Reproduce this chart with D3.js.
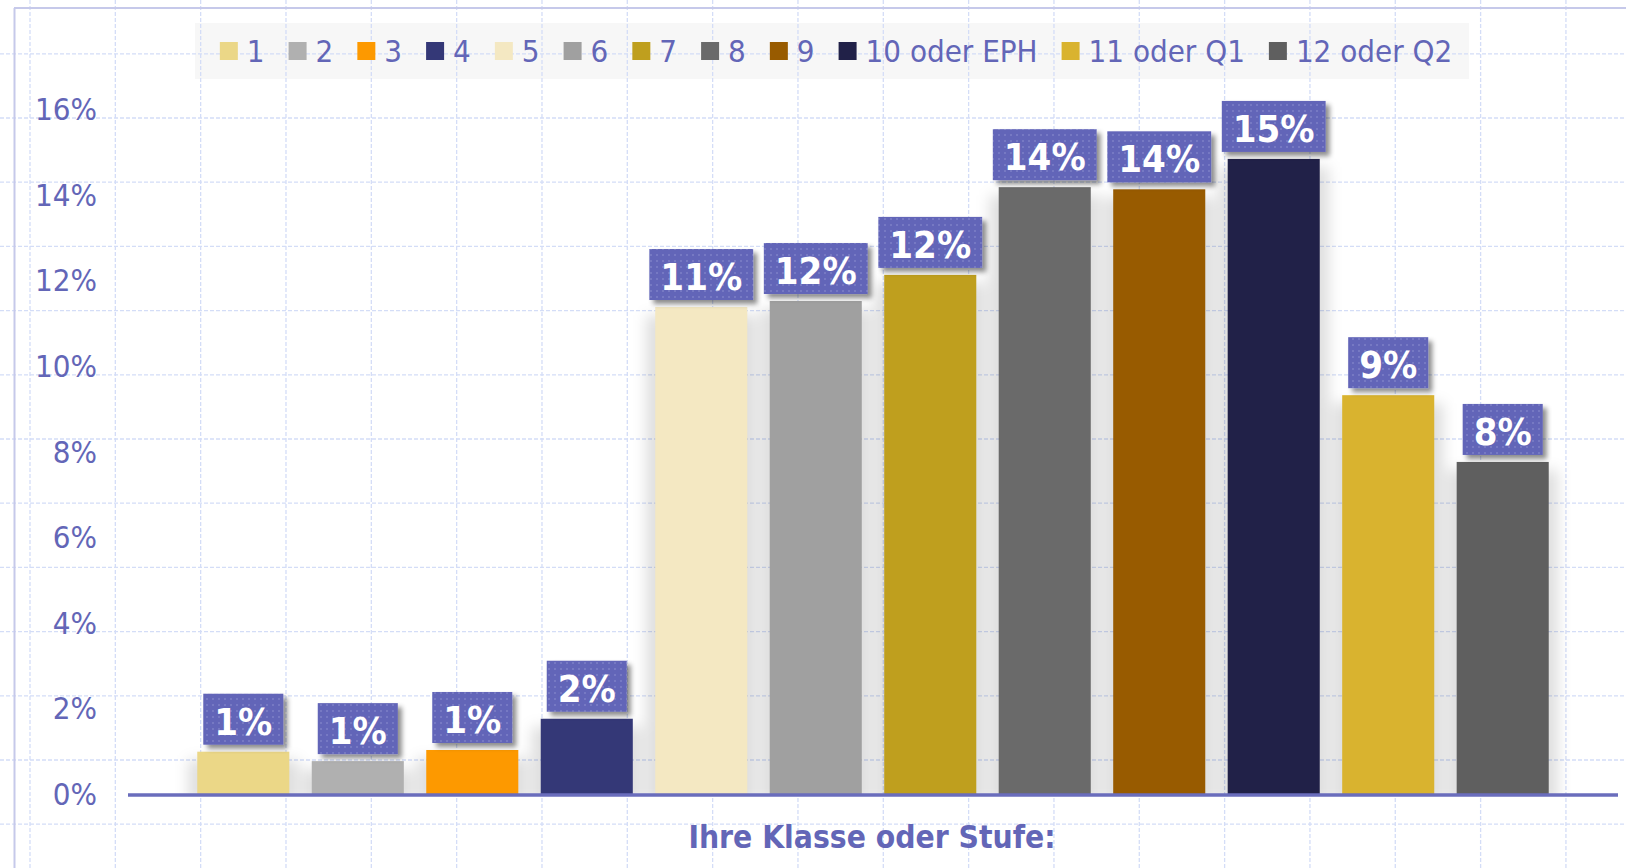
<!DOCTYPE html>
<meta charset="utf-8">
<style>
body { margin: 0; background: #fff; }
svg { display: block; }
text { font-family: "DejaVu Sans Condensed", "DejaVu Sans", sans-serif; font-stretch: condensed; }
.paper line { stroke: #d4ddf7; stroke-width: 1.3px; stroke-dasharray: 4,2; }
.yaxis text { fill: #6366b7; font-size: 31px; }
.yaxis path, .yaxis line { display: none; }
</style>
<body>
<script src="https://d3js.org/d3.v7.min.js"></script>
<script>

// chart data
var categories = ["1", "2", "3", "4", "5", "6", "7", "8", "9", "10 oder EPH", "11 oder Q1", "12 oder Q2"];
var values = [1.0, 0.78, 1.04, 1.77, 11.39, 11.53, 12.14, 14.19, 14.14, 14.85, 9.33, 7.77];
var colors = ["#ebd787", "#b0b0b0", "#fd9900", "#343877", "#f4e8c2", "#a0a0a0",
              "#bf9f1e", "#6a6a6a", "#985b00", "#212148", "#d9b32f", "#5f5f5f"];
var yTicks = [0, 2, 4, 6, 8, 10, 12, 14, 16];
var axisTitle = "Ihre Klasse oder Stufe:";

var W = 1626, H = 868;
var textColor = "#6366b7";

var svg = d3.select("body").append("svg")
    .attr("width", W)
    .attr("height", H);

var defs = svg.append("defs");

// soft shadow behind bars
var f1 = defs.append("filter").attr("id", "barShadow")
    .attr("x", "-50%").attr("y", "-20%").attr("width", "200%").attr("height", "140%");
f1.append("feGaussianBlur").attr("stdDeviation", 7);

// drop shadow of label boxes
var f2 = defs.append("filter").attr("id", "boxShadow")
    .attr("x", "-20%").attr("y", "-20%").attr("width", "150%").attr("height", "160%");
f2.append("feDropShadow").attr("dx", 4).attr("dy", 4).attr("stdDeviation", 2.5)
    .attr("flood-color", "#000").attr("flood-opacity", 0.45);

// dotted fill for label boxes
var pat = defs.append("pattern").attr("id", "dots")
    .attr("width", 6).attr("height", 6).attr("patternUnits", "userSpaceOnUse");
pat.append("rect").attr("width", 6).attr("height", 6).attr("fill", "#6265b8");
pat.append("rect").attr("x", 2).attr("y", 2).attr("width", 2).attr("height", 2).attr("fill", "#7679c3");

// scales
var x = d3.scaleBand()
    .domain(categories)
    .range([128, 1618])
    .paddingInner(0.196)
    .paddingOuter(0.605);

var y = d3.scaleLinear()
    .domain([0, 16])
    .range([794.5, 109.7]);

// legend background
svg.append("rect")
    .attr("x", 195).attr("y", 23)
    .attr("width", 1274).attr("height", 56)
    .attr("fill", "#f7f7f7");

// graph paper background
var paper = svg.append("g").attr("class", "paper");
paper.selectAll(".v")
  .data(d3.range(0, 19))
  .enter().append("line")
    .attr("x1", function(d) { return 30 + d * 85.33; })
    .attr("x2", function(d) { return 30 + d * 85.33; })
    .attr("y1", 0).attr("y2", H);
paper.selectAll(".h")
  .data(d3.range(0, 13))
  .enter().append("line")
    .attr("y1", function(d) { return 53.8 + d * 64.2; })
    .attr("y2", function(d) { return 53.8 + d * 64.2; })
    .attr("x1", 0).attr("x2", W);

// frame
svg.append("line")
    .attr("x1", 14.5).attr("x2", 14.5).attr("y1", 8).attr("y2", H)
    .attr("stroke", "#c6c9ea").attr("stroke-width", 2);
svg.append("line")
    .attr("x1", 14).attr("x2", W).attr("y1", 8).attr("y2", 8)
    .attr("stroke", "#c6c9ea").attr("stroke-width", 2);

// legend
var legend = svg.append("g");
var lx = 0;
categories.forEach(function(c, i) {
  var g = legend.append("g").attr("transform", "translate(" + lx + ",0)");
  g.append("rect")
      .attr("x", 0).attr("y", 42)
      .attr("width", 18).attr("height", 18)
      .attr("fill", colors[i]);
  var t = g.append("text")
      .attr("x", 27).attr("y", 62)
      .attr("fill", textColor)
      .attr("font-size", 31)
      .text(c);
  lx += 27 + t.node().getComputedTextLength() + 24;
});
lx -= 24;
legend.attr("transform", "translate(" + (836 - lx / 2) + ",0)");

// y axis labels
svg.append("g")
    .attr("class", "yaxis")
    .attr("transform", "translate(97,0)")
    .call(d3.axisLeft(y).tickValues(yTicks).tickSize(0).tickPadding(0)
        .tickFormat(function(d) { return d + "%"; }));

// bar shadows (kept above the axis line)
defs.append("clipPath").attr("id", "plotClip")
  .append("rect").attr("x", 0).attr("y", 0).attr("width", W).attr("height", 794);

svg.append("g")
    .attr("clip-path", "url(#plotClip)")
  .append("g")
    .attr("filter", "url(#barShadow)")
  .selectAll("rect")
  .data(values)
  .enter().append("rect")
    .attr("x", function(d, i) { return x(categories[i]) - 9; })
    .attr("y", function(d) { return y(d) + 8; })
    .attr("width", x.bandwidth() + 18)
    .attr("height", function(d) { return y(0) - y(d); })
    .attr("fill", "#000")
    .attr("fill-opacity", 0.13);

// bars
svg.append("g")
  .selectAll("rect")
  .data(values)
  .enter().append("rect")
    .attr("x", function(d, i) { return x(categories[i]); })
    .attr("y", function(d) { return y(d); })
    .attr("width", x.bandwidth())
    .attr("height", function(d) { return y(0) - y(d); })
    .attr("fill", function(d, i) { return colors[i]; });

// x axis line
svg.append("line")
    .attr("x1", 128).attr("x2", 1618)
    .attr("y1", y(0) + 0.5).attr("y2", y(0) + 0.5)
    .attr("stroke", "#6a6dbc").attr("stroke-width", 3.5);

// value labels
var lab = svg.append("g")
  .selectAll("g")
  .data(values)
  .enter().append("g");

lab.each(function(d, i) {
  var g = d3.select(this);
  var cx = x(categories[i]) + x.bandwidth() / 2;
  var bottom = y(d) - 7;
  var box = g.append("rect")
      .attr("fill", "url(#dots)")
      .attr("filter", "url(#boxShadow)");
  var t = g.append("text")
      .attr("x", cx)
      .attr("y", bottom - 51 + 41)
      .attr("text-anchor", "middle")
      .attr("fill", "#fff")
      .attr("font-size", 38)
      .attr("font-weight", "bold")
      .text(Math.round(d) + "%");
  var w = t.node().getComputedTextLength() + 22;
  box.attr("x", cx - w / 2).attr("y", bottom - 51)
     .attr("width", w).attr("height", 51);
});

// x axis title
svg.append("text")
    .attr("x", 872)
    .attr("y", 848)
    .attr("text-anchor", "middle")
    .attr("fill", textColor)
    .attr("font-size", 31.5)
    .attr("font-weight", "bold")
    .text(axisTitle);

</script>
</body>
</html>
